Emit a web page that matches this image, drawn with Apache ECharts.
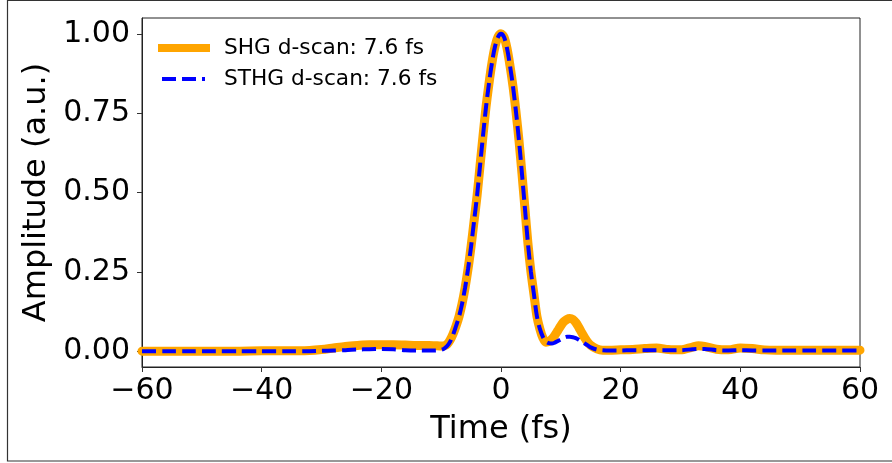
<!DOCTYPE html>
<html>
<head>
<meta charset="utf-8">
<script src="https://cdn.jsdelivr.net/npm/echarts@6/dist/echarts.min.js"></script>
<style>
  html, body { margin: 0; padding: 0; background: #fff; }
  #main { width: 892px; height: 463px; }
</style>
</head>
<body>
<div id="main"></div>
<script>
// time axis (fs)
var times = [
  -60, -56, -52, -48, -44, -40, -36, -32, -30, -28, -26, -24, -22, -20, -18, -16, -14, -12, -11, -10,
  -9.5, -9, -8.5, -8, -7.5, -7, -6.5, -6, -5.5, -5, -4.5, -4, -3.5, -3, -2.5, -2, -1.5, -1, -0.5, 0,
  0.5, 1, 1.5, 2, 2.5, 3, 3.5, 4, 4.5, 5, 5.5, 6, 6.5, 7, 7.5, 8, 8.5, 9, 9.5, 10,
  10.5, 11, 11.5, 12, 12.5, 13, 13.5, 14, 14.5, 15, 16, 17, 18, 20, 22, 24, 26, 28, 30, 32,
  33, 34, 36, 38, 40, 42, 44, 46, 48, 52, 56, 60
];
// SHG d-scan amplitude
var shg = [
  0.000, 0.000, 0.000, 0.000, 0.000, 0.001, 0.001, 0.002, 0.005, 0.010, 0.015, 0.018, 0.020, 0.020, 0.020, 0.019, 0.018, 0.018, 0.017, 0.016,
  0.017, 0.022, 0.035, 0.055, 0.080, 0.110, 0.150, 0.200, 0.260, 0.330, 0.410, 0.490, 0.585, 0.680, 0.770, 0.845, 0.910, 0.960, 0.990, 1.000,
  0.990, 0.955, 0.900, 0.835, 0.755, 0.665, 0.560, 0.450, 0.340, 0.250, 0.180, 0.110, 0.070, 0.042, 0.028, 0.030, 0.038, 0.050, 0.065, 0.080,
  0.093, 0.100, 0.103, 0.100, 0.090, 0.075, 0.058, 0.042, 0.028, 0.018, 0.007, 0.003, 0.003, 0.004, 0.005, 0.008, 0.010, 0.005, 0.004, 0.013,
  0.017, 0.015, 0.006, 0.004, 0.010, 0.008, 0.004, 0.003, 0.003, 0.003, 0.003, 0.003
];
// STHG d-scan amplitude
var sthg = [
  0.000, 0.000, 0.000, 0.000, 0.000, 0.000, 0.000, 0.000, 0.001, 0.002, 0.003, 0.005, 0.006, 0.007, 0.006, 0.003, 0.002, 0.002, 0.002, 0.004,
  0.008, 0.016, 0.030, 0.052, 0.080, 0.110, 0.150, 0.200, 0.260, 0.330, 0.410, 0.490, 0.585, 0.680, 0.770, 0.845, 0.910, 0.960, 0.990, 1.000,
  0.990, 0.955, 0.900, 0.835, 0.755, 0.665, 0.560, 0.450, 0.340, 0.250, 0.180, 0.110, 0.070, 0.045, 0.030, 0.025, 0.024, 0.027, 0.032, 0.037,
  0.042, 0.045, 0.045, 0.044, 0.041, 0.036, 0.030, 0.024, 0.018, 0.012, 0.005, 0.003, 0.002, 0.002, 0.003, 0.003, 0.003, 0.003, 0.003, 0.006,
  0.007, 0.007, 0.003, 0.002, 0.003, 0.002, 0.002, 0.002, 0.002, 0.002, 0.002, 0.002
];
var yTicks = [0, 0.25, 0.5, 0.75, 1.0];
var seriesNames = ['SHG d-scan: 7.6 fs', 'STHG d-scan: 7.6 fs'];
var colors = ['#FFA500', '#0000FF'];

function pairs(ys) {
  return times.map(function (t, i) { return [t, ys[i]]; });
}

var chart = echarts.init(document.getElementById('main'), null, { renderer: 'canvas' });
var font = 'DejaVu Sans';

// matplotlib-style legend, drawn by hand (no frame)
var legendRows = [48, 79];
var legendGraphics = [
  {
    type: 'line', silent: true, z: 10,
    shape: { x1: 158, y1: legendRows[0], x2: 210, y2: legendRows[0] },
    style: { stroke: colors[0], lineWidth: 8 }
  },
  {
    type: 'line', silent: true, z: 10,
    shape: { x1: 162, y1: legendRows[1], x2: 205, y2: legendRows[1] },
    style: { stroke: colors[1], lineWidth: 4, lineDash: [14, 6] }
  }
];
seriesNames.forEach(function (n, i) {
  legendGraphics.push({
    type: 'text', silent: true, z: 10, x: 224, y: legendRows[i],
    style: { text: n, font: '21.7px "DejaVu Sans"', fill: '#000', verticalAlign: 'middle', align: 'left' }
  });
});

chart.setOption({
  animation: false,
  backgroundColor: '#fff',
  textStyle: { fontFamily: font },
  graphic: [{
    type: 'rect',
    shape: { x: 7.5, y: 0.5, width: 900, height: 460.5 },
    style: { fill: 'none', stroke: '#333', lineWidth: 1.2 },
    silent: true
  }].concat(legendGraphics),
  grid: {
    left: 142, right: 32, top: 18, bottom: 96,
    show: true, borderColor: '#222', borderWidth: 1, backgroundColor: '#fff'
  },
  legend: { show: false, data: seriesNames },
  xAxis: {
    type: 'value', min: -60, max: 60, interval: 20,
    name: 'Time (fs)', nameLocation: 'middle', nameGap: 47,
    nameTextStyle: { fontFamily: font, fontSize: 32, color: '#000' },
    axisLine: { show: true, onZero: false, lineStyle: { color: '#222', width: 1 } },
    axisTick: { show: true, length: 5, lineStyle: { color: '#333', width: 1 } },
    axisLabel: {
      fontFamily: font, fontSize: 30, color: '#000', margin: 9,
      formatter: function (v) { return String(v).replace('-', '\u2212'); }
    },
    splitLine: { show: false }
  },
  yAxis: {
    type: 'value', min: -0.05, max: 1.05,
    name: 'Amplitude (a.u.)', nameLocation: 'middle', nameGap: 80,
    nameTextStyle: { fontFamily: font, fontSize: 32, color: '#000' },
    axisLine: { show: true, onZero: false, lineStyle: { color: '#222', width: 1 } },
    axisTick: { show: true, length: 5, customValues: yTicks, lineStyle: { color: '#333', width: 1 } },
    axisLabel: {
      fontFamily: font, fontSize: 30, color: '#000', margin: 12,
      customValues: yTicks,
      formatter: function (v) { return v.toFixed(2); }
    },
    splitLine: { show: false }
  },
  series: [
    {
      name: seriesNames[0], type: 'line', data: pairs(shg),
      symbol: 'none', smooth: 0.3,
      lineStyle: { color: colors[0], width: 9, cap: 'round', join: 'round' },
      itemStyle: { color: colors[0] },
      z: 2
    },
    {
      name: seriesNames[1], type: 'line', data: pairs(sthg),
      symbol: 'none', smooth: 0.3,
      lineStyle: { color: colors[1], width: 4, type: [14, 6] },
      itemStyle: { color: colors[1] },
      z: 3
    }
  ]
});
</script>
</body>
</html>
